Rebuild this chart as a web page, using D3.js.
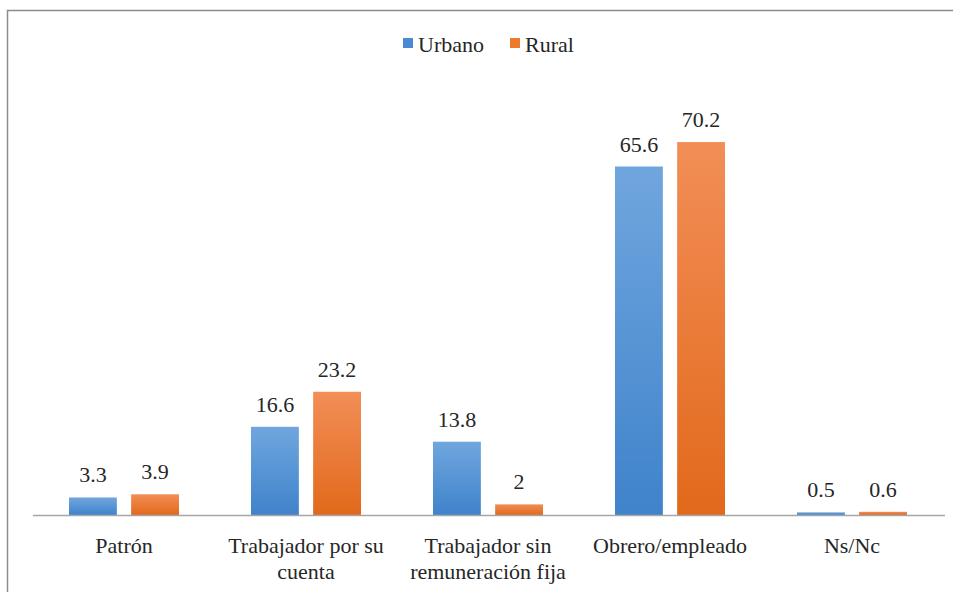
<!DOCTYPE html>
<html>
<head>
<meta charset="utf-8">
<title>Urbano / Rural</title>
<script src="https://d3js.org/d3.v7.min.js"></script>
<style>
    body { margin: 0; background: #fff; }
    svg { display: block; }
    svg text, svg tspan { font-family: 'Liberation Serif', 'Times New Roman', serif !important; }
</style>
</head>
<body>
<svg id="chart" width="953" height="592"></svg>
<script>
    const categories = [["Patrón"], ["Trabajador por su", "cuenta"], ["Trabajador sin", "remuneración fija"], ["Obrero/empleado"], ["Ns/Nc"]];
    const seriesNames = ["Urbano", "Rural"];
    const urbano = [3.3, 16.6, 13.8, 65.6, 0.5];
    const rural = [3.9, 23.2, 2, 70.2, 0.6];

    const FONT = "'Liberation Serif', 'Times New Roman', serif";
    const svg = d3.select('#chart');

    // font helper: inline style so nothing else overrides it
    function serif(sel) {
        return sel.attr('font-family', FONT).style('font-family', FONT, 'important');
    }

    const defs = svg.append('defs');
    const grads = [
        {id: 'gU', top: '#70a6de', bottom: '#3f83cb'},
        {id: 'gR', top: '#f28e57', bottom: '#e2691b'}
    ];
    grads.forEach(g => {
        const lg = defs.append('linearGradient').attr('id', g.id)
            .attr('x1', 0).attr('y1', 0).attr('x2', 0).attr('y2', 1);
        lg.append('stop').attr('offset', '0%').attr('stop-color', g.top);
        lg.append('stop').attr('offset', '100%').attr('stop-color', g.bottom);
    });
    const colors = ['url(#gU)', 'url(#gR)'];
    const legendColors = ['#4a8ad2', '#ee7a2c'];

    // outer frame
    svg.append('rect')
        .attr('x', 7.5).attr('y', 10.5)
        .attr('width', 960).attr('height', 600)
        .attr('fill', 'none').attr('stroke', '#8c8c8c').attr('stroke-width', 1.5);

    const x0 = d3.scaleBand().domain(d3.range(categories.length)).range([33, 943]);
    const x1 = d3.scaleBand().domain([0, 1]).range([x0.bandwidth() / 2 - 55, x0.bandwidth() / 2 + 55]).paddingInner(0.23);
    const y = d3.scaleLinear().domain([0, 80]).range([515, 90]);

    const data = categories.map((c, i) => [urbano[i], rural[i]]);

    const groups = svg.append('g').selectAll('g')
        .data(data)
        .join('g')
        .attr('transform', (d, i) => 'translate(' + x0(i) + ',0)');

    groups.selectAll('rect')
        .data(d => d)
        .join('rect')
        .attr('x', (d, j) => x1(j))
        .attr('y', d => y(d))
        .attr('width', x1.bandwidth())
        .attr('height', d => y(0) - y(d))
        .attr('fill', (d, j) => colors[j]);

    groups.selectAll('text.val')
        .data(d => d)
        .join('text')
        .attr('class', 'val')
        .attr('x', (d, j) => x1(j) + x1.bandwidth() / 2)
        .attr('y', d => y(d) - 15)
        .attr('text-anchor', 'middle')
        .attr('font-size', '22px')
        .attr('fill', '#262626')
        .call(serif)
        .text(d => d);

    // baseline
    svg.append('line')
        .attr('x1', 33).attr('x2', 945)
        .attr('y1', y(0) + 0.5).attr('y2', y(0) + 0.5)
        .attr('stroke', '#a6a6a6').attr('stroke-width', 1.5);

    // category labels
    svg.append('g').selectAll('text')
        .data(categories)
        .join('text')
        .attr('text-anchor', 'middle')
        .attr('font-size', '22px')
        .attr('fill', '#262626')
        .call(serif)
        .attr('transform', (d, i) => 'translate(' + (x0(i) + x0.bandwidth() / 2) + ',553)')
        .selectAll('tspan')
        .data(d => d)
        .join('tspan')
        .attr('x', 0)
        .attr('dy', (d, k) => k === 0 ? 0 : 26)
        .text(d => d);

    // legend
    const legend = svg.append('g');
    const legendX = [403, 510];
    seriesNames.forEach((name, i) => {
        legend.append('rect')
            .attr('x', legendX[i]).attr('y', 38)
            .attr('width', 10).attr('height', 10)
            .attr('fill', legendColors[i]);
        legend.append('text')
            .attr('x', legendX[i] + 15).attr('y', 52)
            .attr('font-size', '22px')
            .attr('fill', '#262626')
            .call(serif)
            .text(name);
    });
</script>
</body>
</html>
